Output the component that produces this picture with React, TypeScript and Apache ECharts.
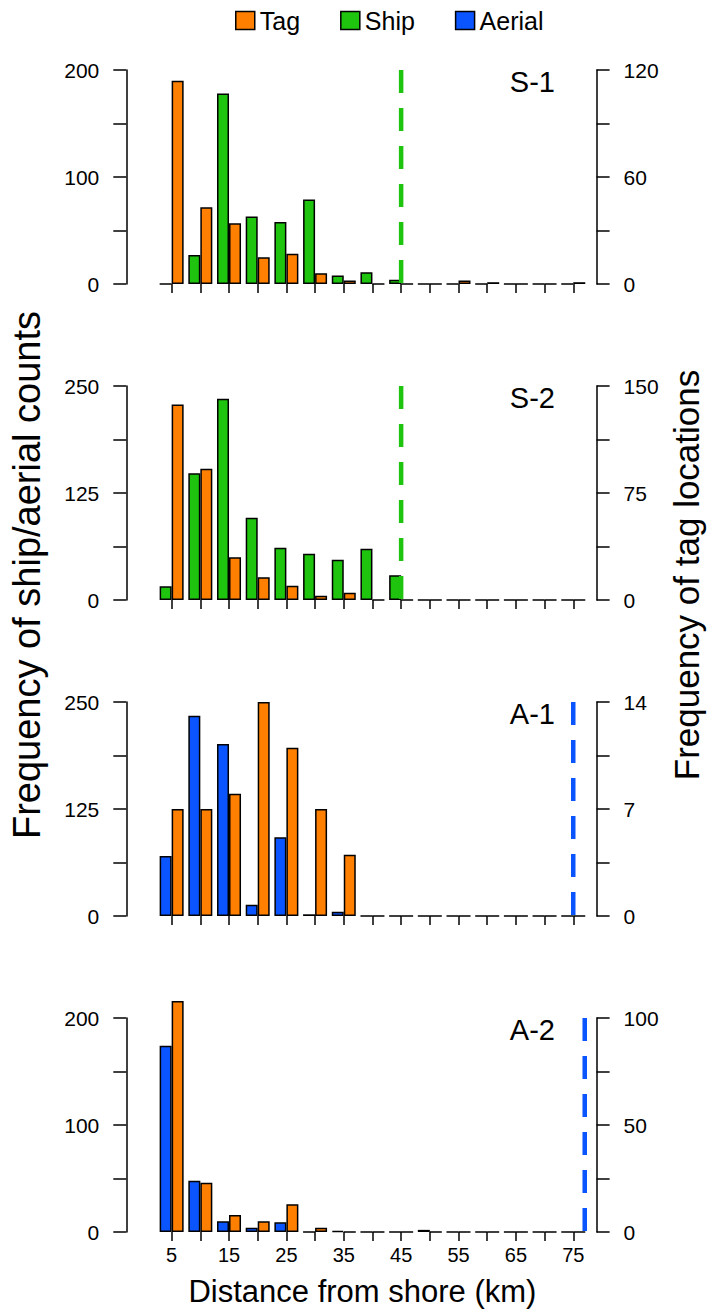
import React, { useEffect, useRef } from "react";
import * as echarts from "echarts";

const categories = ["5", "10", "15", "20", "25", "30", "35", "40", "45", "50", "55", "60", "65", "70", "75"];
const panelNames = ["S-1", "S-2", "A-1", "A-2"];
const countNames = ["Ship", "Ship", "Aerial", "Aerial"];

const s1Ship = [0, 27, 178, 63, 58, 79, 8, 11, 4, 0, 0, 0, 0, 0, 0];
const s1Tag = [114, 43, 34, 15, 17, 6, 2, 0, 0, 0, 2, 1, 0, 0, 1];
const s2Ship = [16, 148, 235, 96, 61, 54, 47, 60, 29, 0, 0, 0, 0, 0, 0];
const s2Tag = [137, 92, 30, 16, 10, 3, 5, 0, 0, 0, 0, 0, 0, 0, 0];
const a1Aerial = [70, 234, 201, 13, 92, 2, 5, 0, 0, 0, 0, 0, 0, 0, 0];
const a1Tag = [7, 7, 8, 14, 11, 7, 4, 0, 0, 0, 0, 0, 0, 0, 0];
const a2Aerial = [174, 48, 10, 4, 9, 0, 1, 0, 0, 2, 0, 0, 0, 0, 0];
const a2Tag = [108, 23, 8, 5, 13, 2, 0, 0, 0, 0, 0, 0, 0, 0, 0];

const countSeries = [s1Ship, s2Ship, a1Aerial, a2Aerial];
const tagSeries = [s1Tag, s2Tag, a1Tag, a2Tag];
const leftMax = [200, 250, 250, 200];
const rightMax = [120, 150, 14, 100];
const dashedAtKm = [45, 45, 75, 77];

const TAG_COLOR = "#FF7F00";
const SHIP_COLOR = "#1FC40E";
const AERIAL_COLOR = "#0A55FF";
const FONT = "'Liberation Sans', Arial, Helvetica, sans-serif";

const gridTops = [70, 386, 702, 1018];
const GRID_LEFT = 157.3;
const GRID_WIDTH = 430.3;
const GRID_HEIGHT = 214;

function halfLabel(max: number) {
  return (v: number) => {
    const r = v / (max / 2);
    return Math.abs(r - Math.round(r)) < 1e-6 ? String(Math.round(v * 100) / 100) : "";
  };
}

export default function App() {
  const ref = useRef<HTMLDivElement>(null);
  useEffect(() => {
    if (!ref.current) return;
    const chart = echarts.init(ref.current, undefined, { renderer: "svg" });
    const grid: any[] = [];
    const xAxis: any[] = [];
    const yAxis: any[] = [];
    const series: any[] = [];
    const graphic: any[] = [];
    for (let i = 0; i < 4; i++) {
      const isBottom = i === 3;
      const countColor = i < 2 ? SHIP_COLOR : AERIAL_COLOR;
      grid.push({ left: GRID_LEFT, top: gridTops[i], width: GRID_WIDTH, height: GRID_HEIGHT });
      xAxis.push({
        type: "category",
        gridIndex: i,
        data: categories,
        axisLine: { show: false },
        axisTick: { show: true, alignWithLabel: true, length: 9, interval: 0, lineStyle: { color: "#000", width: 1.5 } },
        axisLabel: {
          show: isBottom,
          interval: 1,
          color: "#000",
          fontSize: 20,
          fontFamily: FONT,
          margin: 13,
        },
        name: isBottom ? "Distance from shore (km)" : "",
        nameLocation: "middle",
        nameGap: 44,
        nameTextStyle: { fontSize: 31, color: "#000", fontFamily: FONT, padding: [0, 20, 0, 0] },
      });
      xAxis.push({ type: "value", gridIndex: i, min: 2.5, max: 77.5, show: false });
      const axisCommon = {
        gridIndex: i,
        type: "value",
        min: 0,
        splitLine: { show: false },
        axisLine: { show: true, lineStyle: { color: "#000", width: 1.5 } },
        axisTick: { show: true, length: 13, lineStyle: { color: "#000", width: 1.5 } },
      };
      yAxis.push({
        ...axisCommon,
        position: "left",
        offset: 31,
        max: leftMax[i],
        interval: leftMax[i] / 4,
        axisLabel: { color: "#000", fontSize: 21, fontFamily: FONT, margin: 27, formatter: halfLabel(leftMax[i]) },
      });
      yAxis.push({
        ...axisCommon,
        position: "right",
        offset: 9,
        max: rightMax[i],
        interval: rightMax[i] / 4,
        axisLabel: { color: "#000", fontSize: 21, fontFamily: FONT, margin: 27, formatter: halfLabel(rightMax[i]) },
      });
      series.push({
        type: "bar",
        name: countNames[i],
        xAxisIndex: 2 * i,
        yAxisIndex: 2 * i,
        data: countSeries[i],
        barWidth: 12,
        barGap: "0%",
        clip: false,
        itemStyle: { color: countColor, borderColor: "#000", borderWidth: 1.5 },
        silent: true,
      });
      series.push({
        type: "bar",
        name: "Tag",
        xAxisIndex: 2 * i,
        yAxisIndex: 2 * i + 1,
        data: tagSeries[i],
        barWidth: 12,
        barGap: "0%",
        clip: false,
        itemStyle: { color: TAG_COLOR, borderColor: "#000", borderWidth: 1.5 },
        silent: true,
      });
      series.push({
        type: "line",
        xAxisIndex: 2 * i + 1,
        yAxisIndex: 2 * i,
        data: [
          [dashedAtKm[i], leftMax[i]],
          [dashedAtKm[i], 0],
        ],
        symbol: "none",
        silent: true,
        lineStyle: { color: countColor, width: 4.5, type: [23, 15], cap: "butt" },
      });
      graphic.push({
        type: "text",
        x: 555,
        y: gridTops[i] + 12,
        style: {
          text: panelNames[i],
          fill: "#000",
          font: `29px ${FONT}`,
          textAlign: "right",
          textVerticalAlign: "middle",
        },
      });
    }
    graphic.push({
      type: "text",
      x: 27,
      y: 575,
      rotation: Math.PI / 2,
      style: {
        text: "Frequency of ship/aerial counts",
        fill: "#000",
        font: `38px ${FONT}`,
        textAlign: "center",
        textVerticalAlign: "middle",
      },
    });
    graphic.push({
      type: "text",
      x: 686,
      y: 575,
      rotation: Math.PI / 2,
      style: {
        text: "Frequency of tag locations",
        fill: "#000",
        font: `35px ${FONT}`,
        textAlign: "center",
        textVerticalAlign: "middle",
      },
    });
    chart.setOption({
      animation: false,
      backgroundColor: "#fff",
      legend: {
        data: ["Tag", "Ship", "Aerial"],
        left: 230,
        top: 3,
        itemWidth: 19,
        itemHeight: 18,
        itemGap: 40,
        icon: "rect",
        textStyle: { fontSize: 25, color: "#000", fontFamily: FONT },
        itemStyle: { borderColor: "#000", borderWidth: 1.5 },
        selectedMode: false,
      },
      grid,
      xAxis,
      yAxis,
      series,
      graphic,
    });
    return () => chart.dispose();
  }, []);
  return <div ref={ref} style={{ position: "absolute", left: 0, top: 0, width: 709, height: 1309 }} />;
}
